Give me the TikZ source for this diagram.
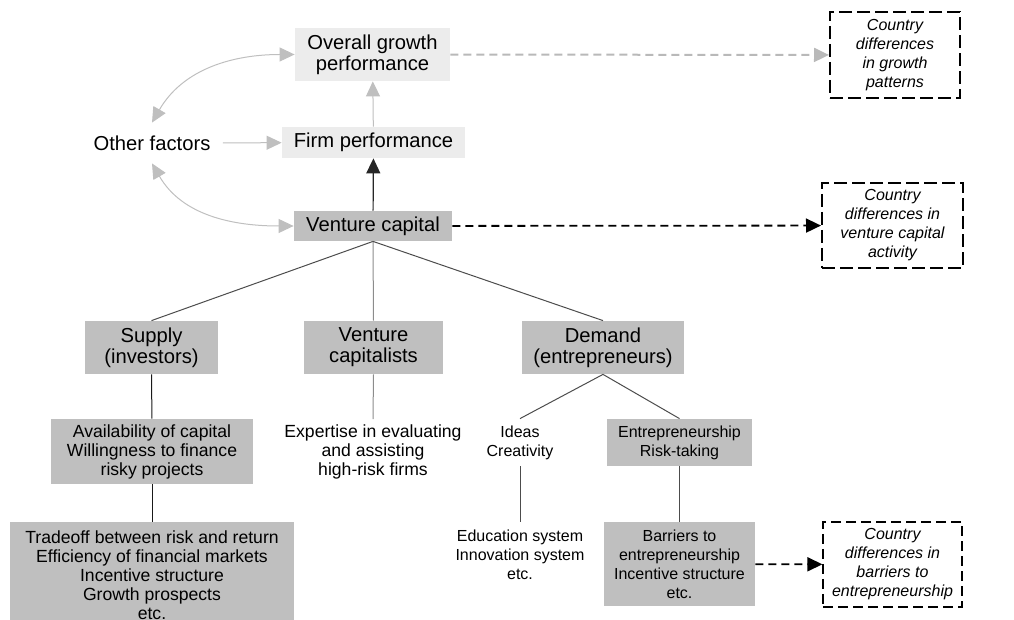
\documentclass[tikz,border=0pt]{standalone}
\usepackage{fontspec}
\setmainfont{Liberation Sans}
\usetikzlibrary{arrows.meta,positioning}
\newcommand{\bigtxt}{\fontsize{10.1}{10.6}\selectfont}
\newcommand{\midtxt}{\fontsize{8.8}{9.5}\selectfont}
\newcommand{\smltxt}{\fontsize{8}{9.5}\selectfont}
\newcommand{\ittxt}{\fontsize{8}{9.5}\selectfont\itshape}
\tikzset{
    headtip/.style={-{Triangle[length=7.5pt,width=7pt]}},
    twotip/.style={{Triangle[length=7.5pt,width=7pt]}-{Triangle[length=7.5pt,width=7pt]}}
}

\begin{document}
\begin{tikzpicture}[x=0.5pt,y=-0.5pt,
    lightbox/.style={fill=gray!15,inner sep=0pt,align=center,font=\bigtxt},
    midbox/.style={fill=black!25,inner sep=0pt,align=center,font=\bigtxt},
    listbox/.style={fill=black!25,inner sep=0pt,align=center},
    plain/.style={inner sep=0pt,align=center},
    cdbox/.style={draw,dash pattern=on 6.5pt off 2.5pt,line width=1pt,inner sep=0pt,align=center,font=\ittxt},
    link/.style={draw=black!70,line width=0.5pt},
    grayarrow/.style={headtip,draw=gray!50,line width=0.5pt},
    blackarrow/.style={headtip,draw=black!85,line width=0.6pt},
    graydash/.style={headtip,draw=gray!55,line width=1pt,dash pattern=on 4pt off 2.5pt},
    blackdash/.style={headtip,draw=black,line width=0.9pt,dash pattern=on 4pt off 2.5pt}]

    \useasboundingbox (0,0) rectangle (1014,620);

    % top part
    \node[lightbox,minimum width=77.5pt,minimum height=26.5pt] (ovr) at (372.5,54.5) {Overall growth\\performance};
    \node[lightbox,minimum width=91.5pt,minimum height=15.5pt] (firm) at (373.5,142.5) {Firm performance};
    \node[midbox,minimum width=79pt,minimum height=15pt] (vc) at (373,226) {Venture capital};
    \node[plain,font=\bigtxt,minimum height=20pt,inner xsep=6pt] (oth) at (152,143) {Other factors};

    % country differences
    \node[cdbox,minimum width=65pt,minimum height=43pt] (cdgrowth) at (895,55) {Country\\differences\\in growth\\patterns};
    \node[cdbox,minimum width=70.5pt,minimum height=42.5pt] (cdvc) at (892.5,225.5) {Country\\differences in\\venture capital\\activity};
    \node[cdbox,line width=0.6pt,dash pattern=on 5pt off 2.5pt,minimum width=69.5pt,minimum height=42.5pt] (cdbar) at (892.5,564.5) {Country\\differences in\\barriers to\\entrepreneurship};

    % supply, capitalists, demand
    \node[midbox,minimum width=66.5pt,minimum height=26.5pt] (sup) at (151.5,347.5) {Supply\\(investors)};
    \node[midbox,minimum width=69.5pt,minimum height=26.5pt] (vcap) at (373.5,347.5) {Venture\\capitalists};
    \node[midbox,minimum width=81pt,minimum height=26.5pt] (dem) at (603,347.5) {Demand\\(entrepreneurs)};

    % third row
    \node[listbox,font=\midtxt,minimum width=101pt,minimum height=32.5pt] (avail) at (152,451.5) {Availability of capital\\Willingness to finance\\risky projects};
    \node[plain,font=\midtxt,minimum height=32.5pt] (expert) at (373,452) {Expertise in evaluating\\and assisting\\high-risk firms};
    \node[plain,font=\smltxt,minimum height=23.5pt] (ideas) at (520,442.5) {Ideas\\Creativity};
    \node[listbox,font=\smltxt,minimum width=72.5pt,minimum height=23.5pt] (entre) at (679.5,442.5) {Entrepreneurship\\Risk-taking};

    % bottom row
    \node[listbox,font=\midtxt,minimum width=142pt,minimum height=53pt] (trade) at (152,575) {Tradeoff between risk and return\\Efficiency of financial markets\\Incentive structure\\Growth prospects\\etc.};
    \node[plain,font=\smltxt,minimum height=33pt] (edu) at (520,555) {Education system\\Innovation system\\etc.};
    \node[listbox,font=\smltxt,minimum width=75.5pt,minimum height=42pt] (barr) at (679.5,564) {Barriers to\\entrepreneurship\\Incentive structure\\etc.};

    % arrows
    \draw[grayarrow] (firm) -- (ovr);
    \draw[grayarrow] (oth) -- (firm);
    \draw[blackarrow] (vc) -- (firm);
    \draw[grayarrow,twotip] (oth.north) to[out=60,in=180] (ovr.west);
    \draw[grayarrow,twotip] (oth.south) to[out=-60,in=180] (vc.west);
    \draw[graydash] (ovr) -- (cdgrowth);
    \draw[blackdash] (vc) -- (cdvc);
    \draw[blackdash] (barr) -- (cdbar);

    % tree lines
    \draw[link] (vc.south) -- (sup.north);
    \draw[link,draw=black!45] (vc.south) -- (vcap.north);
    \draw[link] (vc.south) -- (dem.north);
    \draw[link,draw=black!90] (sup) -- (avail);
    \draw[link,draw=black!90] (avail) -- (trade);
    \draw[link,draw=black!45] (vcap.south) -- (expert.north);
    \draw[link] (dem.south) -- (ideas.north);
    \draw[link] (dem.south) -- (entre.north);
    \draw[link] (ideas) -- (edu);
    \draw[link] (entre) -- (barr);
\end{tikzpicture}
\end{document}
